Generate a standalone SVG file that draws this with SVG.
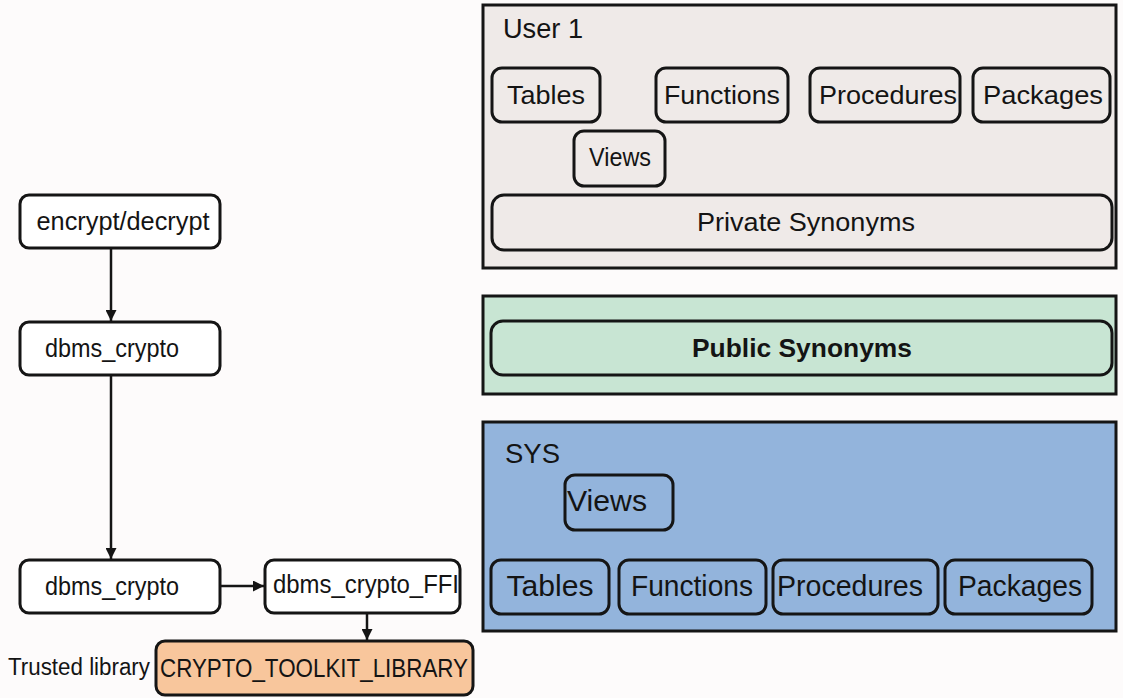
<svg xmlns="http://www.w3.org/2000/svg" width="1123" height="698" viewBox="0 0 1123 698">
  <style>
    text { font-family: "Liberation Sans", Arial, sans-serif; fill: #141414; }
    .box { stroke: #151515; stroke-width: 3; }
    .node { fill: #ffffff; stroke: #151515; stroke-width: 3; }
    .inner { fill: none; stroke: #151515; stroke-width: 3; }
    .lbl { font-size: 26px; text-anchor: middle; }
    .big { font-size: 29px; text-anchor: middle; }
    .title { font-size: 27px; }
    .edge { stroke: #151515; stroke-width: 2.5; fill: none; marker-end: url(#arrow); }
  </style>
  <defs>
    <marker id="arrow" viewBox="0 0 10 10" refX="10" refY="5" markerWidth="11" markerHeight="11" markerUnits="userSpaceOnUse" orient="auto">
      <path d="M0,0 L10,5 L0,10 z" fill="#151515"/>
    </marker>
  </defs>

  <rect width="1123" height="698" fill="#fdfbfb"/>

  <!-- Schema: User 1 -->
  <g id="user1">
    <rect class="box" x="483" y="5" width="633" height="263" fill="#efeae8"/>
    <text class="title" x="503" y="38" textLength="80" lengthAdjust="spacingAndGlyphs">User 1</text>
    <g id="u1-tables">
      <rect class="inner" x="492" y="68" width="108" height="54" rx="10"/>
      <text class="lbl" x="546" y="104" textLength="78" lengthAdjust="spacingAndGlyphs">Tables</text>
    </g>
    <g id="u1-functions">
      <rect class="inner" x="656" y="68" width="132" height="54" rx="10"/>
      <text class="lbl" x="722" y="104" textLength="116" lengthAdjust="spacingAndGlyphs">Functions</text>
    </g>
    <g id="u1-procedures">
      <rect class="inner" x="810" y="68" width="150" height="54" rx="10"/>
      <text class="lbl" x="888" y="104" textLength="138" lengthAdjust="spacingAndGlyphs">Procedures</text>
    </g>
    <g id="u1-packages">
      <rect class="inner" x="973" y="68" width="137" height="54" rx="10"/>
      <text class="lbl" x="1043" y="104" textLength="120" lengthAdjust="spacingAndGlyphs">Packages</text>
    </g>
    <g id="u1-views">
      <rect class="inner" x="574" y="131" width="91" height="55" rx="10"/>
      <text class="lbl" x="620" y="166" textLength="62" lengthAdjust="spacingAndGlyphs">Views</text>
    </g>
    <g id="u1-private-synonyms">
      <rect class="inner" x="492" y="195" width="620" height="55" rx="12"/>
      <text class="lbl" x="806" y="231" textLength="218" lengthAdjust="spacingAndGlyphs">Private Synonyms</text>
    </g>
  </g>

  <!-- Public synonyms band -->
  <g id="public">
    <rect class="box" x="483" y="296" width="633" height="98" fill="#c8e5d3"/>
    <g id="public-synonyms">
      <rect class="inner" x="491" y="321" width="621" height="54" rx="12"/>
      <text class="lbl" x="802" y="357" font-weight="bold" textLength="220" lengthAdjust="spacingAndGlyphs">Public Synonyms</text>
    </g>
  </g>

  <!-- Schema: SYS -->
  <g id="sys">
    <rect class="box" x="483" y="422" width="633" height="209" fill="#93b4dc"/>
    <text class="title" x="505" y="463" textLength="55" lengthAdjust="spacingAndGlyphs">SYS</text>
    <g id="sys-views">
      <rect class="inner" x="565" y="475" width="108" height="55" rx="10"/>
      <text class="big" x="607" y="511" textLength="80" lengthAdjust="spacingAndGlyphs">Views</text>
    </g>
    <g id="sys-tables">
      <rect class="inner" x="491" y="560" width="118" height="54" rx="10"/>
      <text class="big" x="550" y="596" textLength="87" lengthAdjust="spacingAndGlyphs">Tables</text>
    </g>
    <g id="sys-functions">
      <rect class="inner" x="619" y="560" width="147" height="54" rx="10"/>
      <text class="big" x="692" y="596" textLength="122" lengthAdjust="spacingAndGlyphs">Functions</text>
    </g>
    <g id="sys-procedures">
      <rect class="inner" x="773" y="560" width="165" height="54" rx="10"/>
      <text class="big" x="850" y="596" textLength="146" lengthAdjust="spacingAndGlyphs">Procedures</text>
    </g>
    <g id="sys-packages">
      <rect class="inner" x="945" y="560" width="147" height="54" rx="10"/>
      <text class="big" x="1020" y="596" textLength="124" lengthAdjust="spacingAndGlyphs">Packages</text>
    </g>
  </g>

  <!-- Call chain nodes -->
  <g id="encrypt-decrypt">
    <rect class="node" x="20" y="195" width="200" height="53" rx="9"/>
    <text class="lbl" x="123" y="230" textLength="173" lengthAdjust="spacingAndGlyphs">encrypt/decrypt</text>
  </g>
  <g id="dbms-crypto-top">
    <rect class="node" x="20" y="322" width="200" height="53" rx="9"/>
    <text class="lbl" x="112" y="357" textLength="134" lengthAdjust="spacingAndGlyphs">dbms_crypto</text>
  </g>
  <g id="dbms-crypto-bottom">
    <rect class="node" x="20" y="560" width="200" height="53" rx="9"/>
    <text class="lbl" x="112" y="595" textLength="134" lengthAdjust="spacingAndGlyphs">dbms_crypto</text>
  </g>
  <g id="dbms-crypto-ffi">
    <rect class="node" x="265" y="560" width="195" height="53" rx="9"/>
    <text class="lbl" x="366" y="593" textLength="186" lengthAdjust="spacingAndGlyphs">dbms_crypto_FFI</text>
  </g>
  <g id="crypto-toolkit-library">
    <text x="8" y="675" font-size="23" textLength="142" lengthAdjust="spacingAndGlyphs">Trusted library</text>
    <rect class="box" x="156" y="641" width="317" height="54" rx="9" fill="#f8c69c"/>
    <text class="lbl" x="314" y="677" textLength="308" lengthAdjust="spacingAndGlyphs">CRYPTO_TOOLKIT_LIBRARY</text>
  </g>

  <!-- Connectors -->
  <g id="connectors">
    <line class="edge" x1="111" y1="248" x2="111" y2="321"/>
    <line class="edge" x1="111" y1="375" x2="111" y2="559"/>
    <line class="edge" x1="220" y1="586" x2="264" y2="586"/>
    <line class="edge" x1="367" y1="613" x2="367" y2="640"/>
  </g>
</svg>
